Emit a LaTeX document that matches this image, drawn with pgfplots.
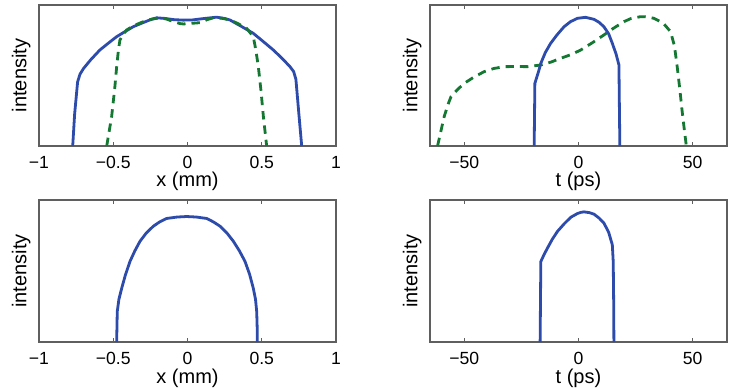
\documentclass[border=0pt]{standalone}
\usepackage{pgfplots}
\pgfplotsset{compat=1.18}
\usepackage{fontspec}
\setmainfont{Liberation Sans}
\definecolor{mblue}{RGB}{45,75,170}
\definecolor{mgreen}{RGB}{20,120,50}
\definecolor{frame}{RGB}{95,95,95}
\pgfplotsset{
  panel/.style={
    scale only axis, width=148.5pt, height=70.5pt,
    ymin=0, ymax=1.1, ytick=\empty,
    axis line style={frame, line width=0.6pt},
    tick align=inside, major tick length=2pt,
    every tick/.style={frame, line width=0.5pt},
    xtick pos=both,
    xticklabel style={font=\fontsize{8.8}{10}\selectfont, inner sep=0pt, anchor=north, yshift=-5pt},
    xlabel style={font=\fontsize{10}{12}\selectfont, inner sep=0pt, at={(axis description cs:0.5,-0.185)}, anchor=north},
    ylabel style={font=\fontsize{10}{12}\selectfont, inner sep=0pt, at={(axis description cs:-0.027,0.5)}, anchor=south, rotate=0},
    ylabel={intensity},
  },
  xpanel/.style={panel, xmin=-1, xmax=1, xtick={-1,-0.5,0,0.5,1},
    xticklabels={−1,−0.5,0,0.5,1}, xlabel={x (mm)}},
  tpanel/.style={panel, xmin=-65, xmax=65, xtick={-50,0,50},
    xticklabels={−50,0,50}, xlabel={t (ps)}},
  bl/.style={mblue, line width=1.4pt},
  gr/.style={mgreen, line width=1.4pt, dash pattern=on 4.2pt off 3pt},
}
\begin{document}
\begin{tikzpicture}
\useasboundingbox (0,0) rectangle (373.5pt,-194.5pt);
% top left
\begin{axis}[xpanel, at={(19.5pt,-2.5pt)}, anchor=north west]
\addplot[bl] coordinates {(-0.773,0) (-0.76,0.25) (-0.74,0.5) (-0.724,0.56) (-0.70,0.605) (-0.65,0.675) (-0.59,0.749) (-0.53,0.805) (-0.477,0.853) (-0.42,0.893) (-0.365,0.931) (-0.30,0.962) (-0.25,0.985) (-0.208,1.0) (-0.15,0.995) (-0.095,0.986) (-0.03,0.982) (0.03,0.983) (0.107,0.994) (0.196,1.005) (0.25,0.995) (0.286,0.983) (0.36,0.935) (0.443,0.879) (0.51,0.815) (0.578,0.749) (0.64,0.68) (0.69,0.619) (0.715,0.58) (0.73,0.52) (0.75,0.25) (0.769,0)};
\addplot[gr] coordinates {(-0.544,0) (-0.511,0.229) (-0.49,0.45) (-0.477,0.619) (-0.465,0.75) (-0.455,0.827) (-0.43,0.875) (-0.41,0.905) (-0.36,0.94) (-0.297,0.97) (-0.24,0.99) (-0.185,1.0) (-0.14,0.99) (-0.095,0.97) (-0.05,0.955) (-0.028,0.952) (0.028,0.957) (0.084,0.962) (0.13,0.985) (0.174,1.0) (0.23,0.997) (0.286,0.983) (0.34,0.955) (0.398,0.918) (0.443,0.853) (0.46,0.75) (0.477,0.619) (0.495,0.43) (0.511,0.229) (0.533,0)};
\end{axis}
% top right
\begin{axis}[tpanel, at={(215pt,-2.5pt)}, anchor=north west]
\addplot[gr] coordinates {(-61.7,0) (-58.8,0.229) (-57,0.33) (-55.8,0.385) (-53,0.44) (-50,0.489) (-46,0.535) (-41.3,0.58) (-37,0.605) (-32.5,0.619) (-27,0.62) (-22.3,0.619) (-16.5,0.632) (-12,0.655) (-7.8,0.684) (-3,0.715) (1,0.749) (6,0.805) (11.1,0.866) (15,0.915) (19.9,0.970) (23,0.995) (27.2,1.009) (30,1.008) (33,0.996) (37,0.96) (40.3,0.892) (42,0.78) (43.2,0.619) (44.3,0.45) (45.3,0.281) (46.3,0.13) (47.2,0)};
\addplot[bl] coordinates {(-19.4,0) (-19.1,0.489) (-17.5,0.58) (-16.5,0.645) (-14.5,0.73) (-12.2,0.801) (-9.5,0.865) (-6.3,0.931) (-3.5,0.97) (-0.5,0.996) (3.1,1.004) (6.8,0.988) (9,0.965) (11.1,0.931) (13.2,0.875) (14.8,0.801) (16.4,0.72) (17.7,0.632) (17.9,0.3) (18.1,0)};
\end{axis}
% bottom left
\begin{axis}[xpanel, height=71pt, at={(19.5pt,-100pt)}, anchor=north west]
\addplot[bl] coordinates {(-0.477,0) (-0.475,0.12) (-0.473,0.236) (-0.462,0.33) (-0.443,0.417) (-0.418,0.52) (-0.387,0.625) (-0.355,0.705) (-0.32,0.78) (-0.277,0.845) (-0.23,0.897) (-0.185,0.932) (-0.14,0.957) (-0.07,0.968) (-0.006,0.972) (0.06,0.968) (0.129,0.957) (0.175,0.93) (0.219,0.897) (0.265,0.845) (0.309,0.78) (0.35,0.705) (0.387,0.625) (0.418,0.525) (0.443,0.417) (0.458,0.33) (0.466,0.236) (0.469,0.12) (0.47,0)};
\end{axis}
% bottom right
\begin{axis}[tpanel, height=71pt, at={(215pt,-100pt)}, anchor=north west]
\addplot[bl] coordinates {(-16.8,0) (-16.6,0.4) (-16.5,0.623) (-15,0.68) (-13.6,0.727) (-11.5,0.795) (-9.2,0.857) (-6.3,0.915) (-3.4,0.966) (-0.5,0.995) (1,1.004) (2.4,1.008) (4.8,1.002) (6.8,0.99) (9,0.96) (11.1,0.922) (13.2,0.85) (14.8,0.753) (15.2,0.623) (15.4,0.3) (15.5,0)};
\end{axis}
\end{tikzpicture}
\end{document}
